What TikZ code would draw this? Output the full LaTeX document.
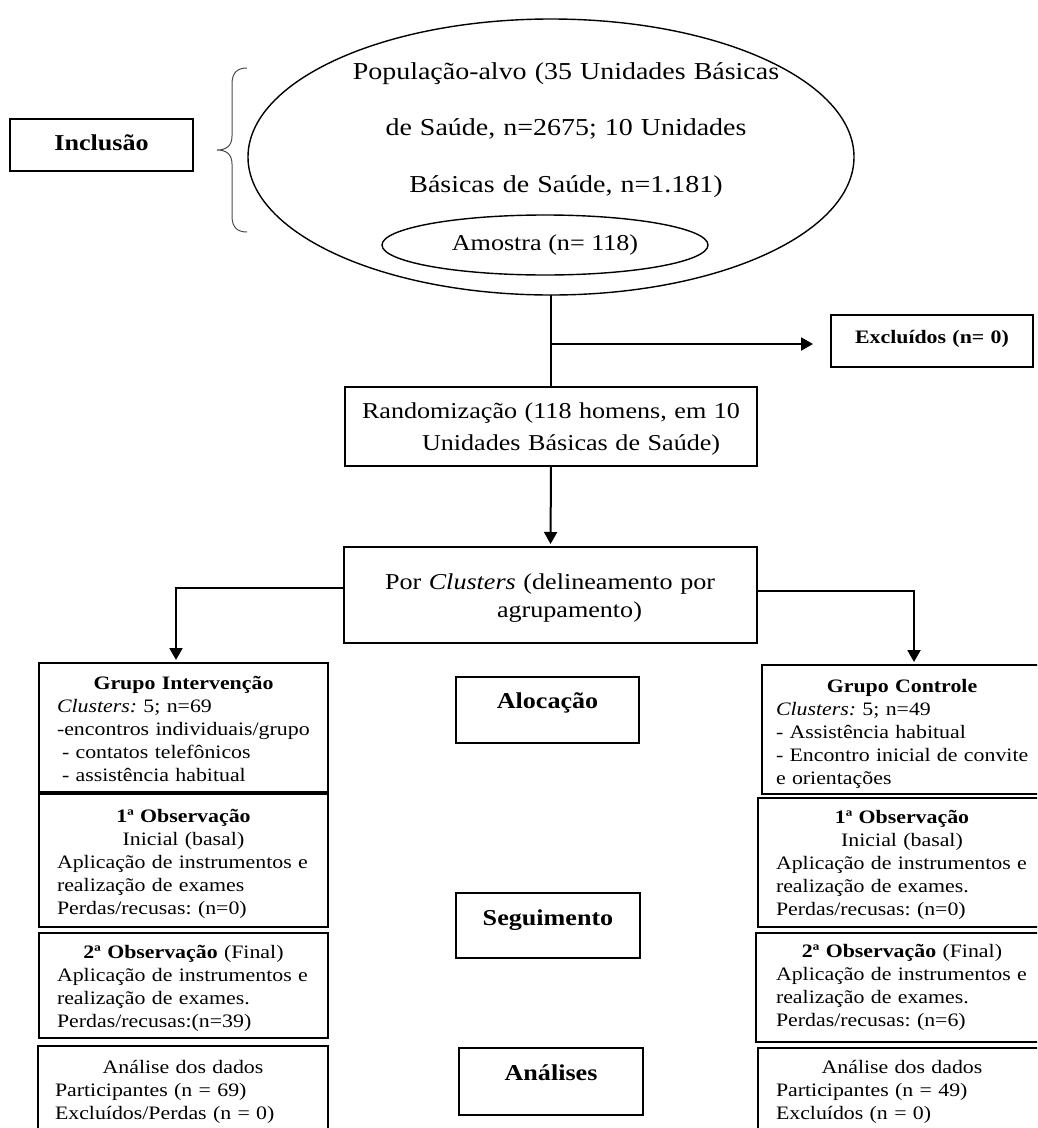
\documentclass[tikz,border=0pt]{standalone}
\usepackage{fontspec}
\setmainfont{Liberation Serif}[FakeStretch=1.15]
\usetikzlibrary{arrows.meta,shapes.geometric}
\frenchspacing
\newcommand\fsS{\fontsize{19}{23}\selectfont}
\newcommand\fsB{\fontsize{22.7}{32}\selectfont}
\newcommand\fsC{\fontsize{22.7}{28}\selectfont}
\newcommand\fsE{\fontsize{24.3}{56.5}\selectfont}
\newcommand\ctr[1]{\makebox[\linewidth][c]{#1}}
\newcommand\jst[1]{\makebox[\linewidth][s]{#1}}
\newcommand\lft[1]{\makebox[\linewidth][l]{#1}}
\begin{document}
\begin{tikzpicture}[x=1pt,y=-1pt,
  every node/.style={inner sep=0pt, outer sep=0pt},
  tb/.style={draw, line width=2pt, anchor=north west, align=left},
  conn/.style={line width=2pt},
  arr/.style={line width=2pt, -{Triangle[length=12pt,width=13pt]}, shorten >=3pt},
  oval/.style={draw, ellipse, line width=1.4pt}
]
\path[use as bounding box] (0,0) rectangle (1037,1128);
\clip (0,0) rectangle (1037,1128);

% Inclusion
\node[tb, align=center, text width=183pt, text height=31pt, text depth=21pt, font=\fsB\bfseries] (incl) at (10,119) {Inclusão};
\draw[line width=1pt, black!70] (247,68) .. controls (238,68) and (232,72) .. (232,84) -- (232,136) .. controls (232,146) and (226,150) .. (217,150) .. controls (226,150) and (232,154) .. (232,164) -- (232,216) .. controls (232,228) and (238,232) .. (247,232);

\node[oval, minimum width=606pt, minimum height=276pt] (popEll) at (551,157) {};
\node[font=\fsE, align=center, text width=520pt, anchor=base] (popTxt) at (566,79) {População-alvo (35 Unidades Básicas\\ de Saúde, n=2675; 10 Unidades\\ Básicas de Saúde, n=1.181)};
\node[oval, minimum width=326pt, minimum height=60pt, font=\fsB] (amostra) at (545,245) {Amostra (n= 118)};

% Excluded
\node[tb, align=center, text width=202pt, text height=28pt, text depth=24pt, font=\fsS\bfseries] (excl) at (831,315) {Excluídos (n= 0)};

% Randomization
\node[tb, inner xsep=17pt, text width=378pt, text height=31pt, text depth=48pt, font=\fsB] (rand) at (345,387) {\lft{Randomização (118 homens, em 10}\\ \lft{\hspace*{60pt}Unidades Básicas de Saúde)}};

% Clusters
\node[tb, inner xsep=41pt, text width=331pt, text height=42pt, text depth=54pt, font=\fsC] (clus) at (344,547) {\lft{Por \textit{Clusters} (delineamento por}\\ \lft{\hspace*{112pt}agrupamento)}};

% Middle labels
\node[tb, align=center, text width=183pt, text height=31pt, text depth=35pt, font=\fsB\bfseries] (aloc) at (456,677) {Alocação};
\node[tb, align=center, text width=184pt, text height=32pt, text depth=33pt, font=\fsB\bfseries] (segu) at (456,893) {Seguimento};
\node[tb, align=center, text width=184pt, text height=32pt, text depth=35pt, font=\fsB\bfseries] (anal) at (459,1048) {Análises};

% Left column
\node[tb, inner xsep=18pt, text width=253pt, text height=26pt, text depth=103pt, font=\fsS] (gi) at (39,663) {\ctr{\bfseries Grupo Intervenção}\\ \lft{\textit{Clusters:} 5; n=69}\\ \lft{-encontros individuais/grupo}\\ \lft{\hspace*{5pt}- contatos telefônicos}\\ \lft{\hspace*{5pt}- assistência habitual}};
\node[tb, inner xsep=18pt, text width=253pt, text height=28pt, text depth=105pt, font=\fsS] (obs1L) at (39,794) {\ctr{\bfseries 1ª Observação}\\ \ctr{Inicial (basal)}\\ \jst{Aplicação de instrumentos e}\\ \lft{realização de exames}\\ \lft{Perdas/recusas: (n=0)}};
\node[tb, inner xsep=18pt, text width=253pt, text height=25pt, text depth=80pt, font=\fsS] (obs2L) at (39,933) {\ctr{\textbf{2ª Observação} (Final)}\\ \jst{Aplicação de instrumentos e}\\ \lft{realização de exames.}\\ \lft{Perdas/recusas:(n=39)}};
\node[tb, inner xsep=17pt, text width=256pt, text height=27pt, text depth=70pt, font=\fsS] (anL) at (38,1046) {\ctr{Análise dos dados}\\ \lft{Participantes (n = 69)}\\ \lft{Excluídos/Perdas (n = 0)}};

% Right column
\node[tb, inner xsep=14pt, text width=252pt, text height=27pt, text depth=102pt, font=\fsS] (gc) at (762,665) {\ctr{\bfseries Grupo Controle}\\ \lft{\textit{Clusters:} 5; n=49}\\ \lft{- Assistência habitual}\\ \jst{- Encontro inicial de convite}\\ \lft{e orientações}};
\node[tb, inner xsep=18pt, text width=252pt, text height=25pt, text depth=104pt, font=\fsS] (obs1R) at (758,798) {\ctr{\bfseries 1ª Observação}\\ \ctr{Inicial (basal)}\\ \jst{Aplicação de instrumentos e}\\ \lft{realização de exames.}\\ \lft{Perdas/recusas: (n=0)}};
\node[tb, inner xsep=20pt, text width=252pt, text height=24pt, text depth=85pt, font=\fsS] (obs2R) at (756,933) {\ctr{\textbf{2ª Observação} (Final)}\\ \jst{Aplicação de instrumentos e}\\ \lft{realização de exames.}\\ \lft{Perdas/recusas: (n=6)}};
\node[tb, inner xsep=18pt, text width=252pt, text height=25pt, text depth=70pt, font=\fsS] (anR) at (758,1048) {\ctr{Análise dos dados}\\ \lft{Participantes (n = 49)}\\ \lft{Excluídos (n = 0)}};

% Connectors
\draw[conn] (popEll.south) -- (rand.north);
\coordinate (J) at (551,344);
\coordinate (exclTip) at (813,344);
\draw[line width=2pt, -{Triangle[length=12pt,width=13pt]}] (J) -- (exclTip);
\draw[arr] (rand.south) -- (clus.north);
\draw[arr] ([yshift=7pt]clus.west) -| ([xshift=-7.5pt]gi.north);
\draw[arr] ([yshift=4pt]clus.east) -| ([xshift=12pt]gc.north);
\end{tikzpicture}
\end{document}
